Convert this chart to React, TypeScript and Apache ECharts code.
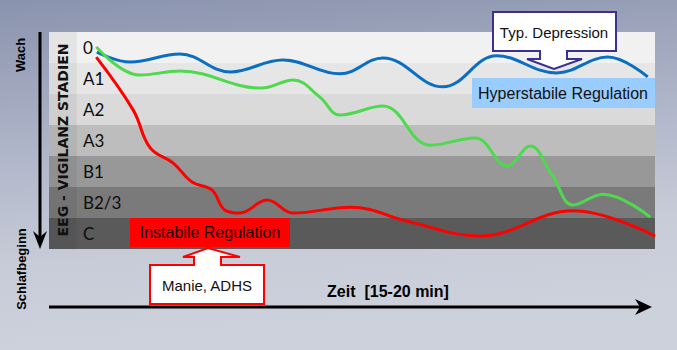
import React, { useEffect, useRef } from "react";
import * as echarts from "echarts";

// Vigilance stages (top = awake, bottom = sleep onset)
const stageLabels = ["0", "A1", "A2", "A3", "B1", "B2/3", "C"];

// Time (0-100 % of 15-20 min) and stage depth (0 = top of stage "0", 7 = bottom of "C")
const timeBlue = [7.9, 13.4, 21.6, 29.9, 38.6, 48.0, 55.1, 65.0, 73.9, 83.7, 92.2, 98.8];
const depthBlue = [0.65, 0.97, 0.71, 1.29, 0.9, 1.35, 0.84, 1.77, 0.77, 1.32, 0.81, 1.45];

const timeGreen = [7.8, 15.0, 21.6, 35.1, 40.3, 44.7, 48.0, 55.1, 62.9, 70.3, 75.6, 79.4, 83.0, 86.5, 91.4, 99.2];
const depthGreen = [0.48, 1.39, 1.26, 1.81, 1.55, 2.1, 2.68, 2.39, 3.65, 3.42, 4.32, 3.68, 4.61, 5.58, 5.23, 5.97];

const timeRed = [7.8, 13.9, 16.7, 20.5, 23.6, 26.9, 29.0, 31.5, 36.0, 40.3, 49.7, 59.6, 71.1, 86.5, 100];
const depthRed = [0.81, 2.52, 3.74, 4.23, 4.84, 5.1, 5.74, 5.84, 5.42, 5.84, 5.65, 6.13, 6.58, 5.77, 6.58];

const bandColors = ["#f1f1f1", "#e6e6e6", "#dadada", "#bdbdbd", "#989898", "#7a7a7a", "#5a5a5a"];

const zip = (xs: number[], ys: number[]) => xs.map((x, i) => [x, ys[i]]);

export default function App() {
  const ref = useRef<HTMLDivElement>(null);
  useEffect(() => {
    if (!ref.current) return;
    const chart = echarts.init(ref.current, null, { renderer: "svg" });
    const lineBase = {
      type: "line",
      smooth: 0.4,
      showSymbol: false,
      xAxisIndex: 0,
      yAxisIndex: 0,
      z: 5,
      clip: true,
    };
    const sans = "Liberation Sans, Arial, sans-serif";
    chart.setOption({
      animation: false,
      backgroundColor: {
        type: "linear",
        x: 0,
        y: 0,
        x2: 0.15,
        y2: 1,
        colorStops: [
          { offset: 0, color: "#8a93ae" },
          { offset: 0.45, color: "#b1b7ca" },
          { offset: 0.75, color: "#c8ccd8" },
          { offset: 1, color: "#cdd1dc" },
        ],
      },
      grid: { left: 49, right: 22, top: 32, bottom: 101 },
      xAxis: [{ type: "value", min: 0, max: 100, show: false }],
      yAxis: [
        { type: "value", min: 0, max: 7, inverse: true, show: false },
        {
          type: "category",
          data: stageLabels,
          inverse: true,
          position: "left",
          axisLine: { show: false },
          axisTick: { show: false },
          splitLine: { show: false },
          axisLabel: {
            inside: true,
            margin: 34,
            align: "left",
            color: "#0d0d0d",
            fontSize: 17,
            fontFamily: "Lato, sans-serif",
          },
          z: 6,
        },
      ],
      series: [
        {
          type: "line",
          data: [],
          xAxisIndex: 0,
          yAxisIndex: 0,
          z: 1,
          silent: true,
          markArea: {
            silent: true,
            data: [
              ...stageLabels.map((_, i) => [
                { yAxis: i, itemStyle: { color: bandColors[i] } },
                { yAxis: i + 1 },
              ]),
              [
                { xAxis: 0, yAxis: 0, itemStyle: { color: "rgba(0,0,0,0.05)" } },
                { xAxis: 4.6, yAxis: 7 },
              ],
            ],
          },
        },
        { ...lineBase, name: "Blau", data: zip(timeBlue, depthBlue), lineStyle: { color: "#0a6fc2", width: 3 } },
        { ...lineBase, name: "Grün", data: zip(timeGreen, depthGreen), lineStyle: { color: "#4fd94f", width: 3 } },
        { ...lineBase, name: "Rot", data: zip(timeRed, depthRed), lineStyle: { color: "#ff0000", width: 3 } },
      ],
      graphic: [
        // left vertical arrow
        { type: "line", shape: { x1: 40, y1: 32, x2: 40, y2: 240 }, style: { stroke: "#000", lineWidth: 3 }, z: 10 },
        {
          type: "polygon",
          shape: { points: [[33, 231], [40, 249], [47, 231], [40, 237]] },
          style: { fill: "#000" },
          z: 10,
        },
        // bottom horizontal arrow
        { type: "line", shape: { x1: 49, y1: 307, x2: 642, y2: 307 }, style: { stroke: "#000", lineWidth: 3 }, z: 10 },
        {
          type: "polygon",
          shape: { points: [[635, 299], [652, 307], [635, 315], [640, 307]] },
          style: { fill: "#000" },
          z: 10,
        },
        {
          type: "text",
          x: 20,
          y: 55,
          rotation: Math.PI / 2,
          style: { text: "Wach", font: `bold 13px ${sans}`, fill: "#000", align: "center", verticalAlign: "middle" },
          z: 10,
        },
        {
          type: "text",
          x: 21,
          y: 269,
          rotation: Math.PI / 2,
          style: { text: "Schlafbeginn", font: `bold 13px ${sans}`, fill: "#000", align: "center", verticalAlign: "middle" },
          z: 10,
        },
        {
          type: "text",
          x: 63,
          y: 140,
          rotation: Math.PI / 2,
          style: {
            text: "EEG - VIGILANZ STADIEN",
            font: `bold 14px DejaVu Sans, sans-serif`,
            fill: "#111",
            align: "center",
            verticalAlign: "middle",
          },
          z: 10,
        },
        {
          type: "text",
          x: 388,
          y: 291,
          style: { text: "Zeit  [15-20 min]", font: `bold 16px ${sans}`, fill: "#000", align: "center", verticalAlign: "middle" },
          z: 10,
        },
        // Hyperstabile Regulation
        { type: "rect", shape: { x: 472, y: 78, width: 183, height: 30 }, style: { fill: "#99ccff" }, z: 10 },
        {
          type: "text",
          x: 563,
          y: 93,
          style: { text: "Hyperstabile Regulation", font: `16px ${sans}`, fill: "#111", align: "center", verticalAlign: "middle" },
          z: 11,
        },
        // Instabile Regulation
        { type: "rect", shape: { x: 130, y: 218, width: 160, height: 29 }, style: { fill: "#ff0000" }, z: 10 },
        {
          type: "text",
          x: 210,
          y: 232,
          style: { text: "Instabile Regulation", font: `16px ${sans}`, fill: "#1a0000", align: "center", verticalAlign: "middle" },
          z: 11,
        },
        // Typ. Depression callout
        {
          type: "polygon",
          shape: {
            points: [
              [493, 12], [616, 12], [616, 51], [567, 51], [567, 59], [582, 59], [554, 69],
              [527, 59], [540, 59], [540, 51], [493, 51],
            ],
          },
          style: { fill: "#ffffff", stroke: "#3b2f8f", lineWidth: 2 },
          z: 12,
        },
        {
          type: "text",
          x: 554,
          y: 32,
          style: { text: "Typ. Depression", font: `15px ${sans}`, fill: "#111", align: "center", verticalAlign: "middle" },
          z: 13,
        },
        // Manie, ADHS callout
        {
          type: "polygon",
          shape: {
            points: [
              [150, 304], [150, 265], [194, 265], [194, 257], [183, 257], [208, 248],
              [240, 257], [221, 257], [221, 265], [264, 265], [264, 304],
            ],
          },
          style: { fill: "#ffffff", stroke: "#ff0000", lineWidth: 2 },
          z: 12,
        },
        {
          type: "text",
          x: 207,
          y: 285,
          style: { text: "Manie, ADHS", font: `15px ${sans}`, fill: "#111", align: "center", verticalAlign: "middle" },
          z: 13,
        },
      ],
    });
    return () => chart.dispose();
  }, []);
  return <div ref={ref} style={{ position: "absolute", left: 0, top: 0, width: 677, height: 350 }} />;
}
